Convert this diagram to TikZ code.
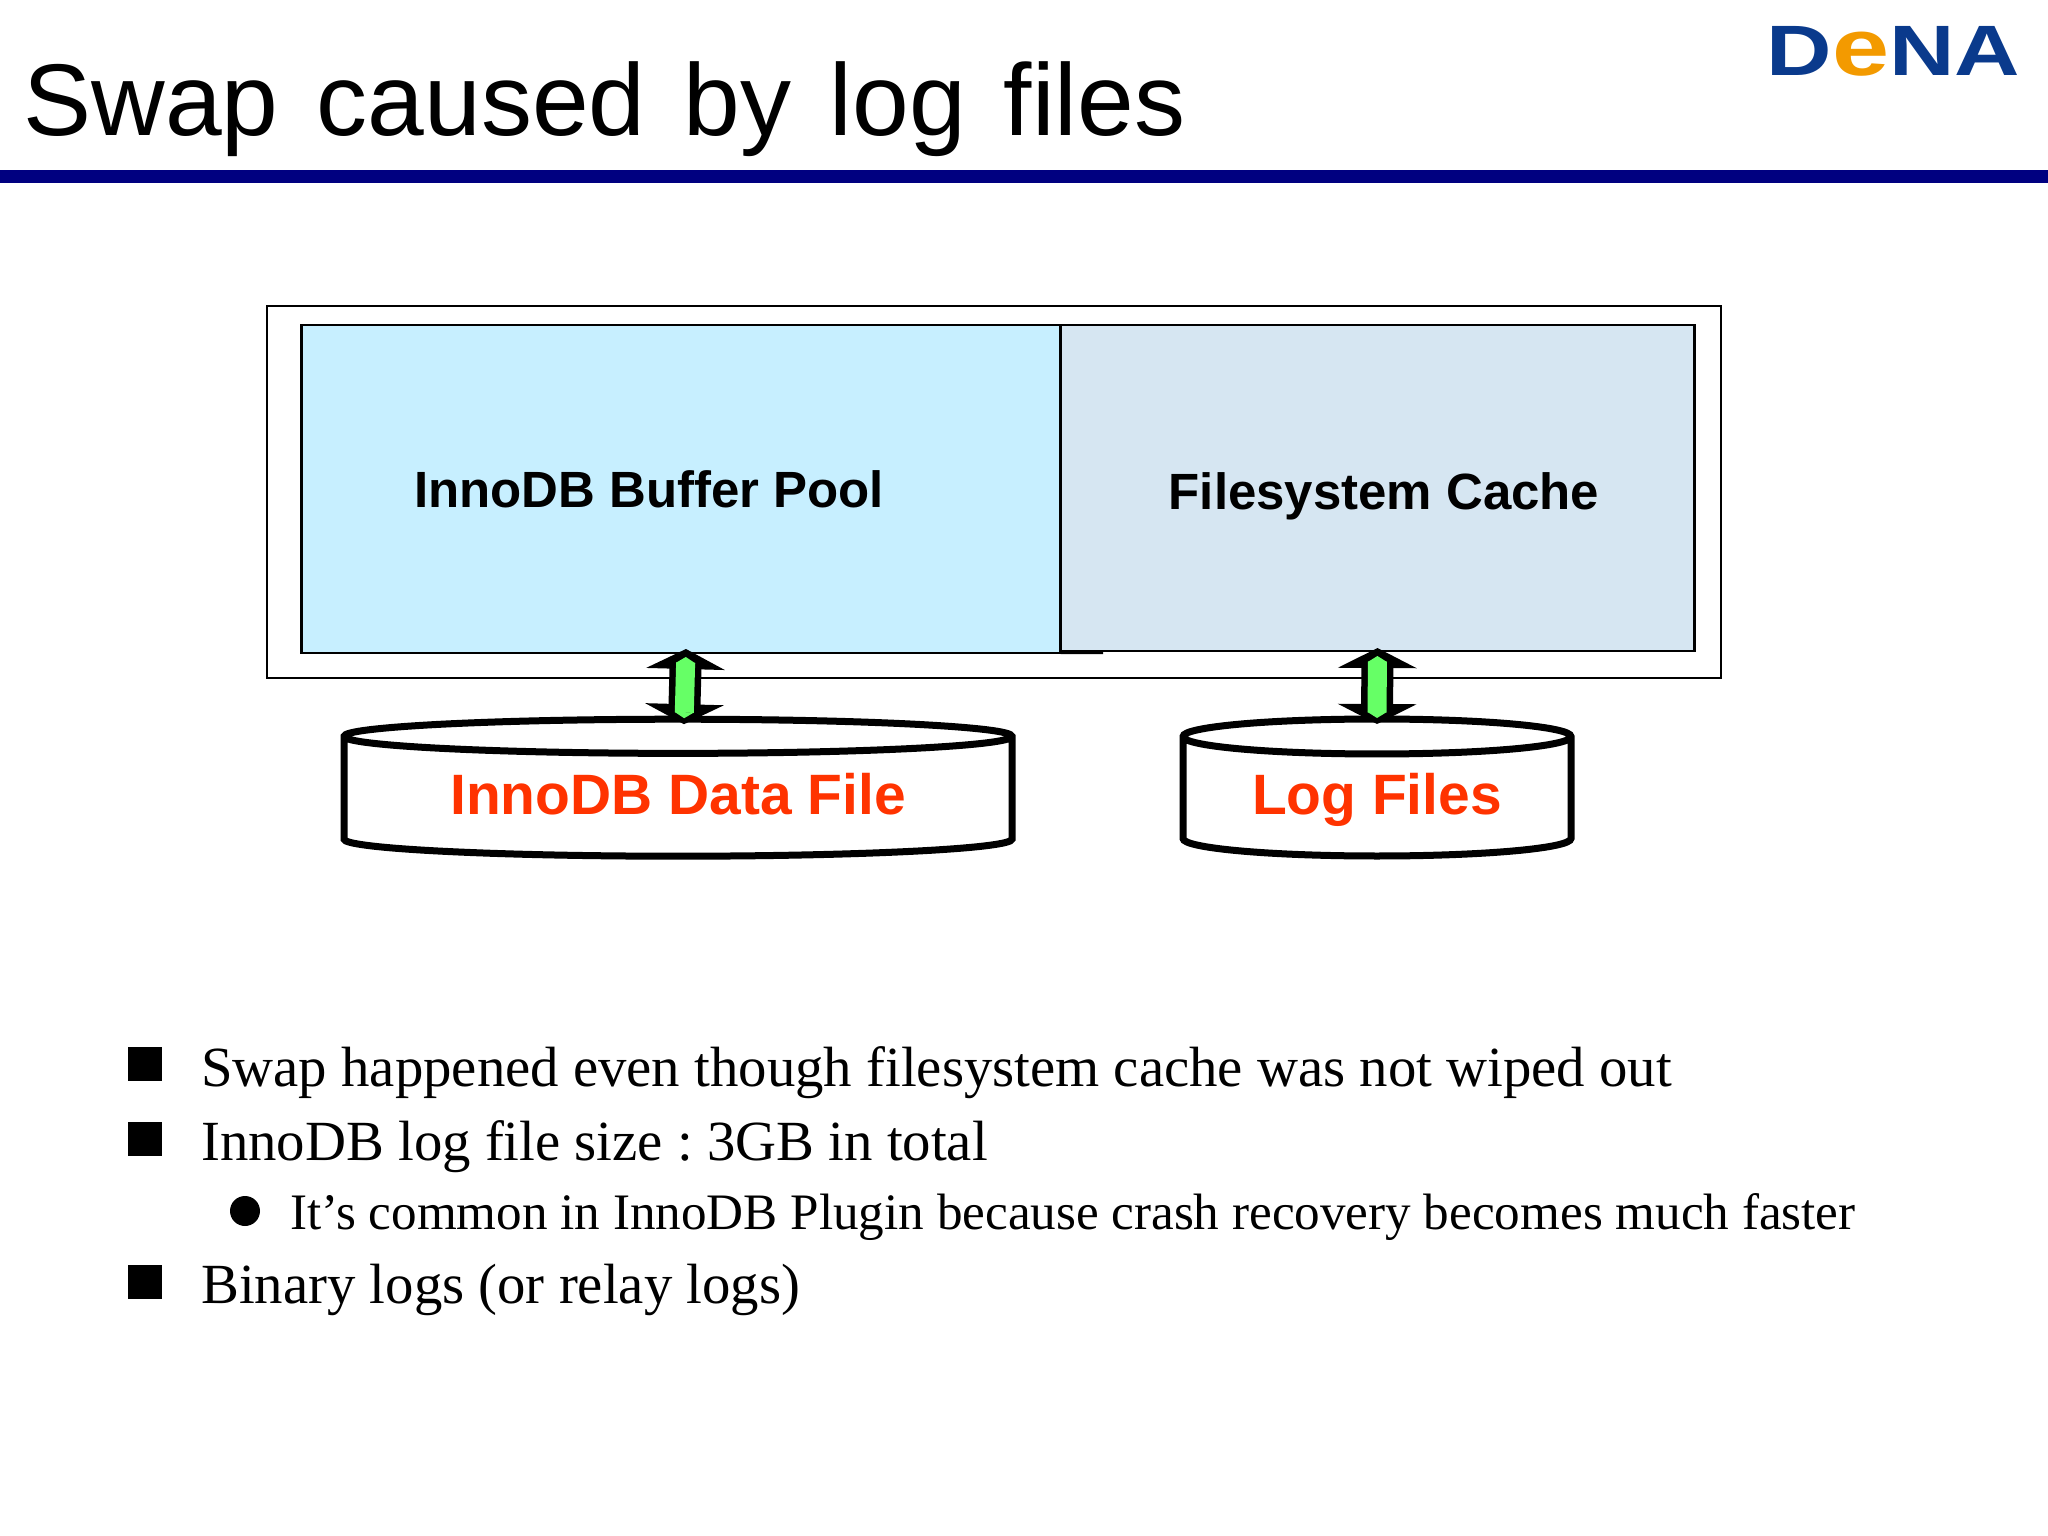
\documentclass[tikz,border=0pt]{standalone}
\usepackage{fontspec}
\setmainfont{Liberation Serif}
\setsansfont{Liberation Sans}
\usetikzlibrary{shapes.geometric}
\usetikzlibrary{arrows.meta}
\definecolor{rulenavy}{HTML}{000080}
\definecolor{poolblue}{HTML}{C7EFFF}
\definecolor{cacheblue}{HTML}{D6E6F2}
\definecolor{filered}{HTML}{FF3300}
\definecolor{iogreen}{HTML}{66FF66}
\definecolor{logoblue}{HTML}{0A3A8C}
\definecolor{logoorange}{HTML}{F39A00}

\begin{document}
\begin{tikzpicture}
\tikzstyle{mem}=[rectangle,draw,line width=0.025cm,inner sep=0,outer sep=0]
\tikzstyle{boxlabel}=[font=\sffamily\bfseries\fontsize{14.5}{16}\selectfont]
\tikzstyle{disk}=[cylinder,shape border rotate=90,draw,fill=white,line width=0.07cm,inner sep=0,outer sep=0,
  minimum height=1.37cm,text height=0.34cm,text depth=0pt,font=\sffamily\bfseries\fontsize{16.2}{18}\selectfont,text=filered]
\tikzstyle{iolink}=[black,line width=0.32cm,{Triangle[width=0.78cm,length=0.2cm]}-{Triangle[width=0.78cm,length=0.2cm]},
  postaction={draw=iogreen,line width=0.19cm,shorten <=0.08cm,shorten >=0.06cm,{Triangle[width=0.19cm,length=0.06cm]}-{Triangle[width=0.19cm,length=0.06cm]}}]
\tikzstyle{squarebullet}=[rectangle,fill=black,minimum size=0.34cm,inner sep=0]
\tikzstyle{roundbullet}=[circle,fill=black,minimum size=0.3cm,inner sep=0]
\tikzstyle{item}=[anchor=base west,inner sep=0,font=\frenchspacing\fontsize{16.15}{18}\selectfont]
\tikzstyle{subitem}=[anchor=base west,inner sep=0,font=\fontsize{14.55}{16}\selectfont]

\useasboundingbox (0,0) rectangle (20.48,-15.36);

\node[anchor=base west,inner sep=0,font=\sffamily\fontsize{29}{34}\selectfont] (title) at (0.23,-1.36) {\spaceskip=10.9pt Swap caused by log files};
\node[rectangle,fill=rulenavy,minimum width=20.48cm,minimum height=0.13cm,inner sep=0] (headrule) at (10.24,-1.765) {};
\node[anchor=base west,inner sep=0,xscale=1.27,font=\sffamily\bfseries\fontsize{20.3}{24}\selectfont] (logo) at (17.66,-0.76)
  {\textcolor{logoblue}{D}\textcolor{logoorange}{\fontsize{23}{24}\selectfont e}\textcolor{logoblue}{NA}};

\node[mem,minimum width=14.54cm,minimum height=3.72cm] (server) at (9.94,-4.92) {};
\node[mem,fill=poolblue,minimum width=7.59cm,minimum height=3.28cm] (pool) at (6.81,-4.89) {};
\node[mem,fill=cacheblue,minimum width=6.34cm,minimum height=3.26cm] (cache) at (13.775,-4.88) {};
\coordinate (poolend) at (11.03,-6.53);
\draw[line width=0.025cm] (pool.south east) -- (poolend);
\node[boxlabel] (poollabel) at (6.49,-4.89) {InnoDB Buffer Pool};
\node[boxlabel] (cachelabel) at (13.84,-4.96) {Filesystem Cache};

\node[disk,minimum width=6.68cm,aspect=0.075] (datafile) at (6.78,-7.98) {InnoDB Data File};
\node[disk,minimum width=3.88cm,aspect=0.14] (logfile) at (13.77,-7.98) {Log Files};

\draw[iolink] ([shift={(0.05,0.04)}]pool.south) -- ([shift={(0.06,-0.05)}]datafile.north);
\draw[iolink] ([shift={(0.0,0.03)}]cache.south) -- ([shift={(0.0,-0.05)}]logfile.north);

\node[squarebullet] (b1) at (1.45,-10.64) {};
\node[item] (t1) at (2.005,-10.86) {Swap happened even though filesystem cache was not wiped out};
\node[squarebullet] (b2) at (1.45,-11.39) {};
\node[item] (t2) at (2.005,-11.6) {InnoDB log file size : 3GB in total};
\node[roundbullet] (b3) at (2.45,-12.11) {};
\node[subitem] (t3) at (2.9,-12.295) {It’s common in InnoDB Plugin because crash recovery becomes much faster};
\node[squarebullet] (b4) at (1.45,-12.82) {};
\node[item] (t4) at (2.005,-13.03) {Binary logs (or relay logs)};

\end{tikzpicture}
\end{document}
